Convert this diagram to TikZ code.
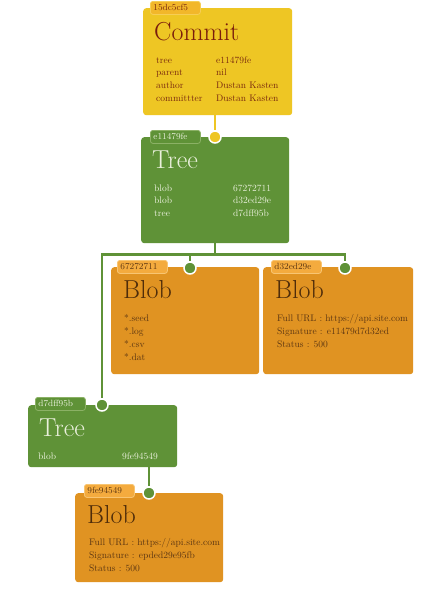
\documentclass[tikz,border=0pt]{standalone}
\usepackage{fontspec}
\definecolor{cyel}{HTML}{EEC624}
\definecolor{cyeltag}{HTML}{F2B72A}
\definecolor{cyeltagb}{HTML}{F6CE55}
\definecolor{ctitle}{HTML}{7A1C0C}
\definecolor{ctext}{HTML}{7A2A0E}
\definecolor{cgreen}{HTML}{5F9237}
\definecolor{cgreentagb}{HTML}{8BB165}
\definecolor{gtext}{HTML}{EAF0DC}
\definecolor{corange}{HTML}{E09322}
\definecolor{corangetag}{HTML}{F4AB3E}
\definecolor{corangetagb}{HTML}{F8C572}
\definecolor{otitle}{HTML}{4E2C0A}
\definecolor{otext}{HTML}{5C3612}
\tikzset{
  box/.style={rounded corners=3pt, anchor=north west, inner sep=0pt, draw=none},
  tag/.style={rounded corners=2.5pt, anchor=north west, minimum width=50pt, minimum height=13pt,
    inner xsep=3pt, inner ysep=0pt, text width=44pt, align=left, line width=0.8pt,
    font=\fontsize{9}{9}\selectfont},
  title/.style={anchor=base west, inner sep=0pt, font=\fontsize{26}{26}\selectfont},
  row/.style={anchor=base west, inner sep=0pt, font=\fontsize{9.5}{10}\selectfont},
  dot/.style={circle, minimum size=12pt, inner sep=0pt, draw=white, line width=1.5pt},
  yline/.style={draw=cyel, line width=2.5pt},
  gline/.style={draw=cgreen, line width=2.2pt},
}
\begin{document}
\begin{tikzpicture}[x=1pt,y=-1pt]
\useasboundingbox[fill=white] (0,0) rectangle (429,589);
% Commit
\node[box, fill=cyel, minimum width=149pt, minimum height=107pt] (commit) at (143,8) {};
\node[tag, fill=cyeltag, draw=cyeltagb, text=ctext] (committag) at (150,1) {15dc5cf5};
\node[title, text=ctitle] (committitle) at (154,40) {Commit};
\node[row, text=ctext] (cr1a) at (156,63) {tree};
\node[row, text=ctext] (cr1b) at (216,63) {e11479fe};
\node[row, text=ctext] (cr2a) at (156,75.7) {parent};
\node[row, text=ctext] (cr2b) at (216,75.7) {nil};
\node[row, text=ctext] (cr3a) at (156,88.4) {author};
\node[row, text=ctext] (cr3b) at (216,88.4) {Dustan Kasten};
\node[row, text=ctext] (cr4a) at (156,101) {committter};
\node[row, text=ctext] (cr4b) at (216,101) {Dustan Kasten};
% Tree 1
\node[box, fill=cgreen, minimum width=148pt, minimum height=106pt] (tree1) at (141,137) {};
\node[tag, fill=cgreen, draw=cgreentagb, text=gtext] (tree1tag) at (150,130) {e11479fe};
\node[title, text=gtext] (tree1title) at (152,168) {Tree};
\node[row, text=gtext] (t1r1a) at (154,191) {blob};
\node[row, text=gtext] (t1r1b) at (233,191) {67272711};
\node[row, text=gtext] (t1r2a) at (154,203.5) {blob};
\node[row, text=gtext] (t1r2b) at (233,203.5) {d32ed29e};
\node[row, text=gtext] (t1r3a) at (154,216) {tree};
\node[row, text=gtext] (t1r3b) at (233,216) {d7dff95b};
% Blob 1
\node[box, fill=corange, minimum width=148pt, minimum height=107pt] (blob1) at (111,267) {};
\node[tag, fill=corangetag, draw=corangetagb, text=otext] (blob1tag) at (117,260) {67272711};
\node[title, text=otitle] (blob1title) at (123,298) {Blob};
\node[row, text=otext] (b1r1) at (124,321) {*.seed};
\node[row, text=otext] (b1r2) at (124,334) {*.log};
\node[row, text=otext] (b1r3) at (124,347) {*.csv};
\node[row, text=otext] (b1r4) at (124,360) {*.dat};
% Blob 2
\node[box, fill=corange, minimum width=150pt, minimum height=107pt] (blob2) at (263,267) {};
\node[tag, fill=corangetag, draw=corangetagb, text=otext] (blob2tag) at (271,260) {d32ed29e};
\node[title, text=otitle] (blob2title) at (275,298) {Blob};
\node[row, text=otext] (b2r1) at (277,321) {Full URL : https://api.site.com};
\node[row, text=otext] (b2r2) at (277,334) {Signature : e11479d7d32ed};
\node[row, text=otext] (b2r3) at (277,347) {Status : 500};
% Tree 2
\node[box, fill=cgreen, minimum width=149pt, minimum height=62pt] (tree2) at (28,405) {};
\node[tag, fill=cgreen, draw=cgreentagb, text=gtext] (tree2tag) at (35,397) {d7dff95b};
\node[title, text=gtext] (tree2title) at (39,436) {Tree};
\node[row, text=gtext] (t2r1a) at (38,459) {blob};
\node[row, text=gtext] (t2r1b) at (122,459) {9fe94549};
% Blob 3
\node[box, fill=corange, minimum width=148pt, minimum height=89pt] (blob3) at (75,493) {};
\node[tag, fill=corangetag, draw=corangetagb, text=otext] (blob3tag) at (84,484) {9fe94549};
\node[title, text=otitle] (blob3title) at (87,523) {Blob};
\node[row, text=otext] (b3r1) at (89,545.5) {Full URL : https://api.site.com};
\node[row, text=otext] (b3r2) at (89,558.5) {Signature : epded29e95fb};
\node[row, text=otext] (b3r3) at (89,571.5) {Status : 500};
% connection dots
\node[dot, fill=cyel] (c1) at (215,137) {};
\node[dot, fill=cgreen] (c2) at (190,268) {};
\node[dot, fill=cgreen] (c3) at (345,268) {};
\node[dot, fill=cgreen] (c4) at (102,405) {};
\node[dot, fill=cgreen] (c5) at (149,493) {};
% connectors
\draw[yline] (c1 |- commit.south) -- (c1.north);
\path (tree1.south) ++(0,11) coordinate (j);
\draw[gline] (tree1.south) -- (j) -| (c2.north);
\draw[gline] (j) -| (c3.north);
\draw[gline] (j) -| (c4.north);
\draw[gline] (c5 |- tree2.south) -- (c5.north);
\end{tikzpicture}
\end{document}
